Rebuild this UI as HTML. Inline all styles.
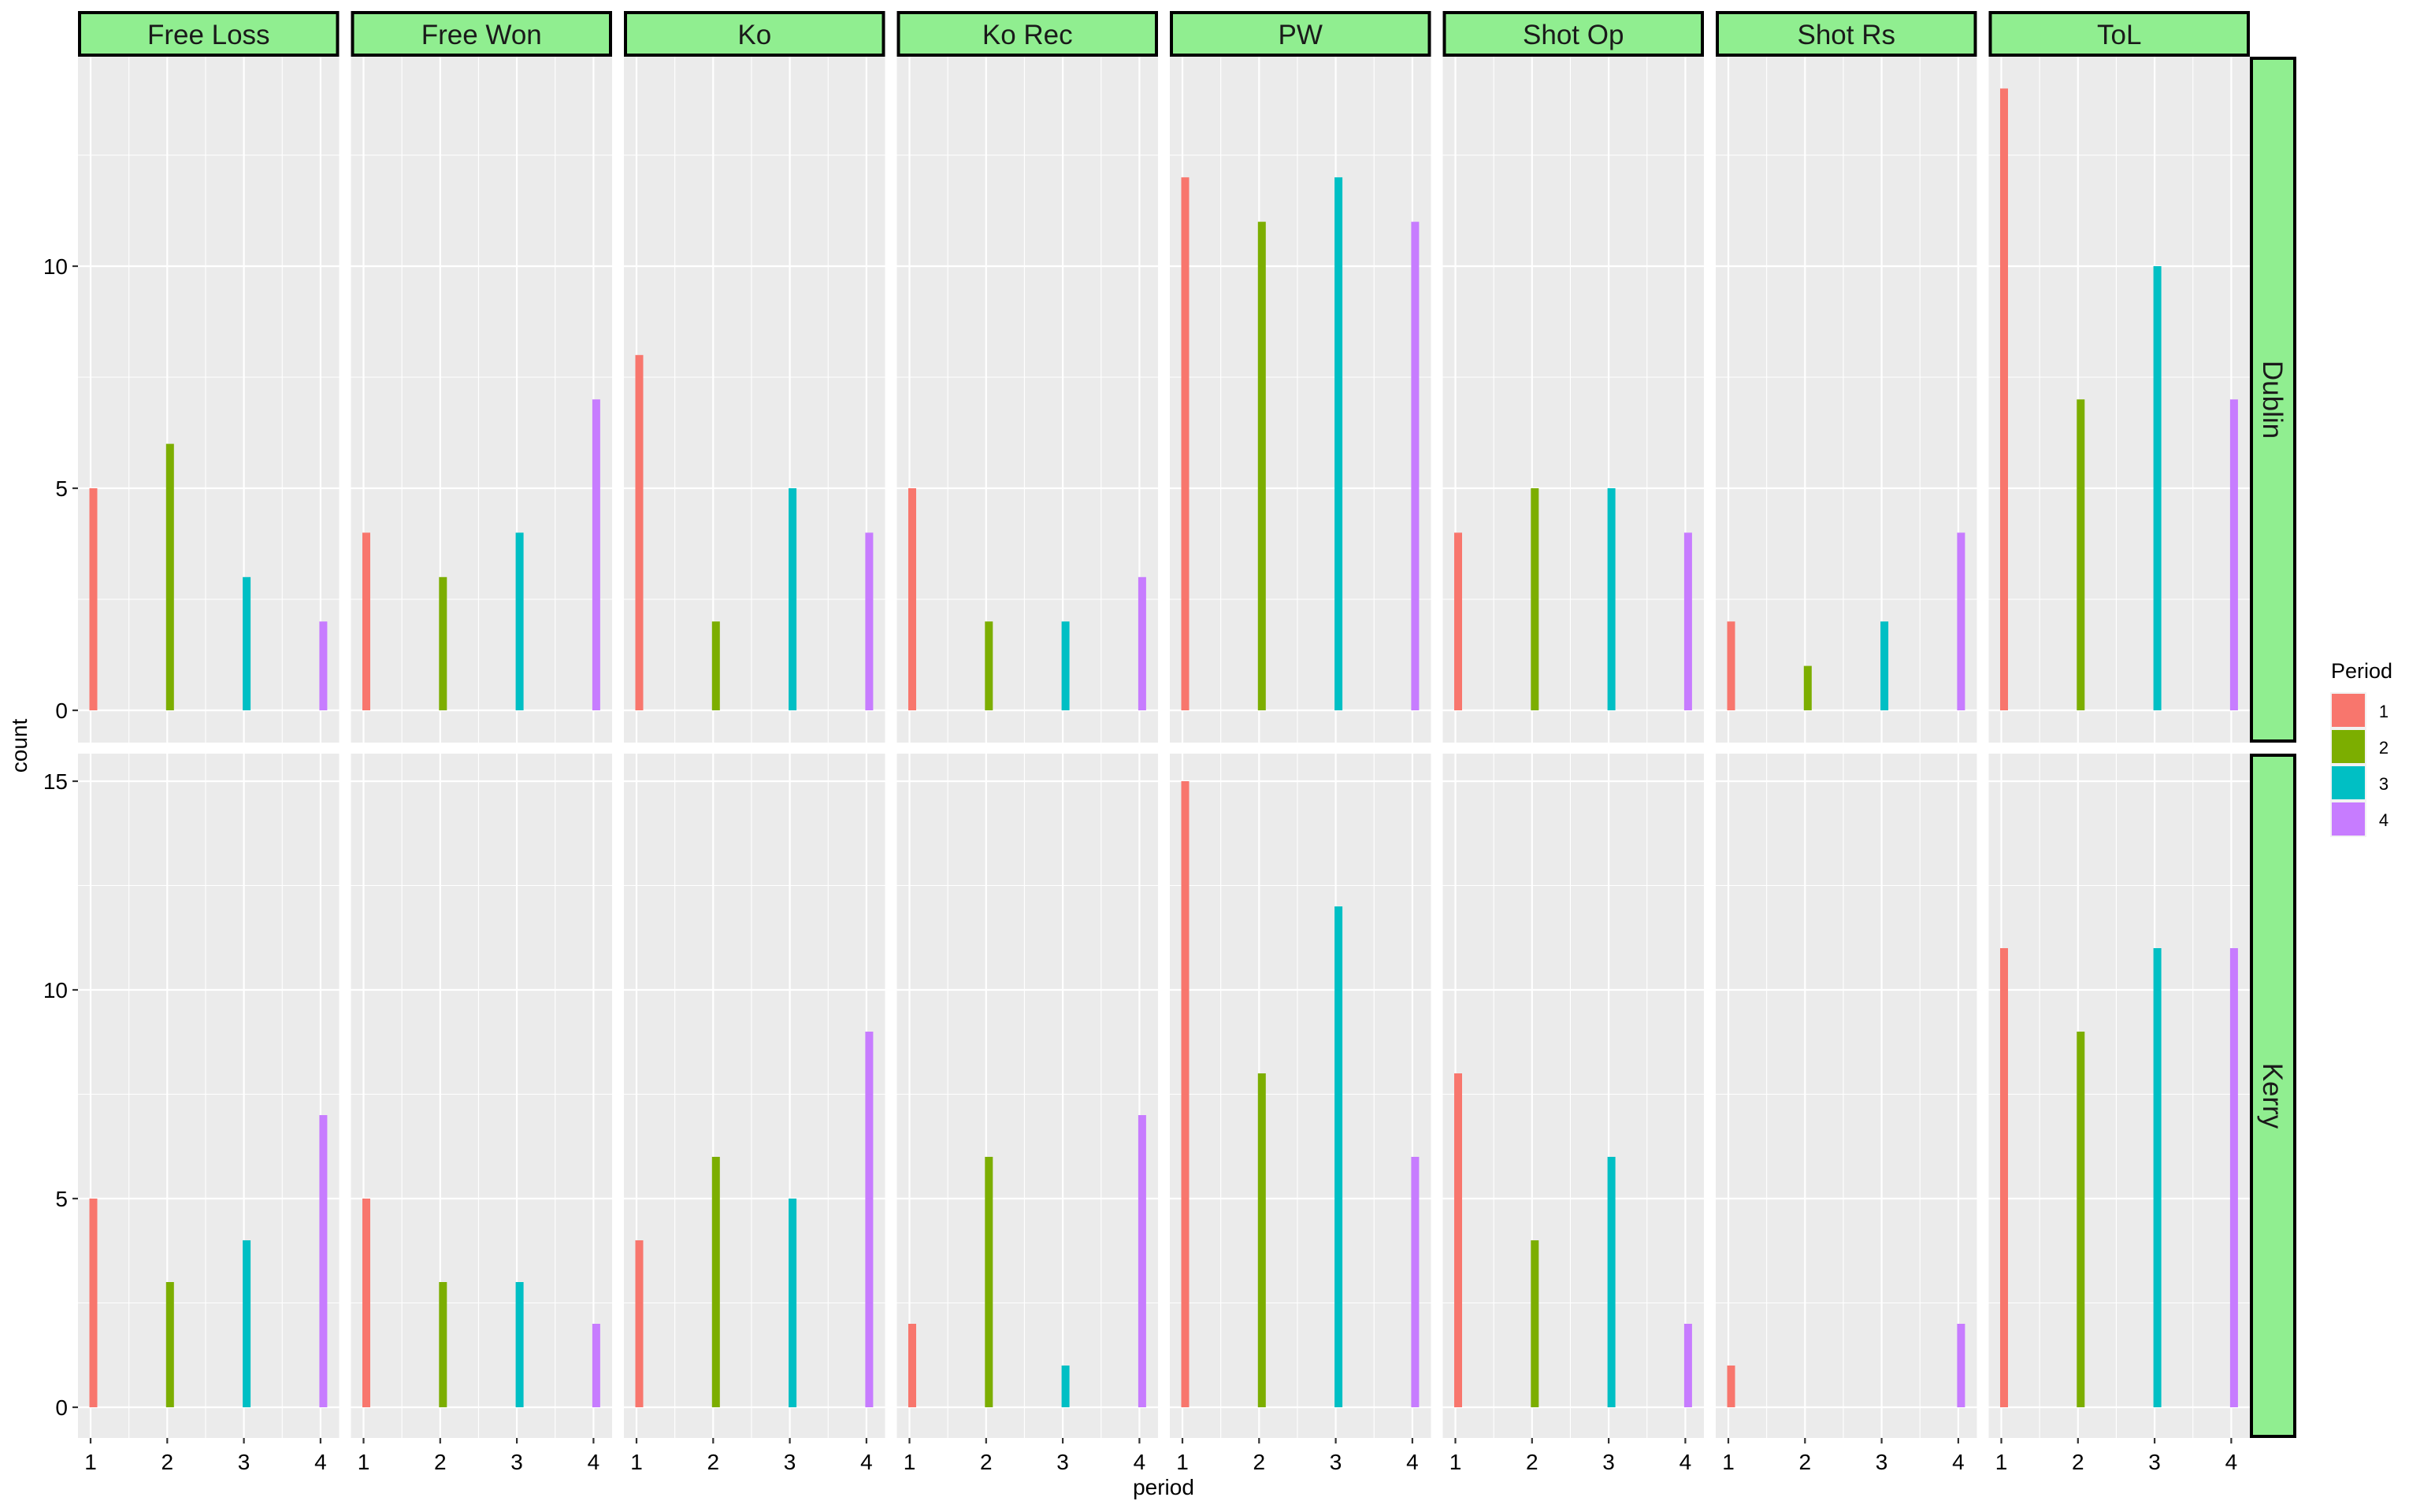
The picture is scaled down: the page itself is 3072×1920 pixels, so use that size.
<!DOCTYPE html>
<html><head><meta charset="utf-8">
<style>
html,body{margin:0;padding:0;background:#fff;}
svg{display:block;font-family:"Liberation Sans",Arial,sans-serif;}
</style></head>
<body>
<svg id="chart" width="3072" height="1920" viewBox="0 0 3072 1920" xmlns="http://www.w3.org/2000/svg"></svg>
<script>
const facets = ["Free Loss","Free Won","Ko","Ko Rec","PW","Shot Op","Shot Rs","ToL"];
const teams = ["Dublin","Kerry"];
const periods = [1,2,3,4];
const colors = ["#F8766D","#7CAE00","#00BFC4","#C77CFF"];
const dublinCounts = [[5,6,3,2],[4,3,4,7],[8,2,5,4],[5,2,2,3],[12,11,12,11],[4,5,5,4],[2,1,2,4],[14,7,10,7]];
const kerryCounts = [[5,3,4,7],[5,3,3,2],[4,6,5,9],[2,6,1,7],[15,8,12,6],[8,4,6,2],[1,0,0,2],[11,9,11,11]];
const dublinTicks = [0,5,10];
const kerryTicks = [0,5,10,15];

const NS="http://www.w3.org/2000/svg";
const svg=document.getElementById('chart');
function mk(tag,attrs,parent){const e=document.createElementNS(NS,tag);for(const k in attrs)e.setAttribute(k,attrs[k]);(parent||svg).appendChild(e);return e;}

const panelLeft0=99, panelW=331.5, panelStep=346.5;
const rows=[
 {top:72,bottom:943,zeroY:902,unit:56.4,data:dublinCounts,ticks:dublinTicks,name:'dublin'},
 {top:957,bottom:1826,zeroY:1787,unit:53,data:kerryCounts,ticks:kerryTicks,name:'kerry'}
];
function xScale(col,p){return panelLeft0+col*panelStep+16+(p-1)*97.3;}

rows.forEach((r,ri)=>{
  const yS=v=>r.zeroY-v*r.unit;
  const maxV=(r.zeroY-r.top)/r.unit, minV=(r.zeroY-r.bottom)/r.unit;
  facets.forEach((f,ci)=>{
    const L=panelLeft0+ci*panelStep;
    const g=mk('g',{});
    
    
    mk('rect',{x:L,y:r.top,width:panelW,height:r.bottom-r.top,fill:'#EBEBEB'},g);
    // minor horizontal grid
    for(let v=Math.ceil(minV/2.5)*2.5; v<=maxV; v+=2.5){
      const isMajor = Math.abs(v%5)<1e-6;
      mk('line',{x1:L,x2:L+panelW,y1:yS(v),y2:yS(v),stroke:'#fff','stroke-width':isMajor?2.2:1.1},g);
    }
    // vertical grid
    for(let p=0.5;p<=4.5;p+=0.5){
      const x=xScale(ci,p);
      if(x<L||x>L+panelW)continue;
      const isMajor=Math.abs(p%1)<1e-6;
      mk('line',{x1:x,x2:x,y1:r.top,y2:r.bottom,stroke:'#fff','stroke-width':isMajor?2.2:1.1},g);
    }
    // bars
    periods.forEach((p,pi)=>{
      const v=r.data[ci][pi];
      if(v<=0)return;
      const cx=xScale(ci,p)+3.5;
      const b=mk('rect',{x:cx-5,y:yS(v),width:10,height:yS(0)-yS(v),fill:colors[pi]},g);
      
      
    });
    // x ticks for bottom row
    if(ri===1){
      periods.forEach(p=>{
        const x=xScale(ci,p);
        mk('line',{x1:x,x2:x,y1:r.bottom,y2:r.bottom+7,stroke:'#333','stroke-width':2.2},g);
        const t=mk('text',{x:x,y:1866,'font-size':28,'text-anchor':'middle',fill:'#000'},g);
        t.textContent=p;
        
        
      });
    }
    // top strips
    if(ri===0){
      const s=mk('rect',{x:L+2,y:16,width:panelW-4,height:54,fill:'#90EE90',stroke:'#000','stroke-width':4});
      
      
      const t=mk('text',{x:L+panelW/2,y:56,'font-size':35,'text-anchor':'middle',fill:'#1a1a1a'});
      t.textContent=f;
      
      
    }
  });
  // y ticks
  r.ticks.forEach(v=>{
    const y=yS(v);
    mk('line',{x1:92,x2:99,y1:y,y2:y,stroke:'#333','stroke-width':2.2});
    const t=mk('text',{x:86,y:y+10,'font-size':28,'text-anchor':'end',fill:'#000'});
    t.textContent=v;
    
    
  });
  // right strip
  const rs=mk('rect',{x:2858,y:r.top+2,width:55,height:r.bottom-r.top-4,fill:'#90EE90',stroke:'#000','stroke-width':4});
  
  
  const cy=(r.top+r.bottom)/2;
  const rt=mk('text',{x:2885,y:cy,'font-size':35,'text-anchor':'middle',fill:'#1a1a1a',transform:'rotate(90 2885 '+cy+')',dy:'12'});
  rt.textContent=teams[ri];
  
  
});

// axis titles
const xt=mk('text',{x:1477,y:1898,'font-size':28,'text-anchor':'middle',fill:'#000'});
xt.textContent='period';


const yt=mk('text',{x:0,y:0,'font-size':28,'text-anchor':'middle',fill:'#000',transform:'translate(34,947) rotate(-90)'});
yt.textContent='count';



// legend
const lg=mk('g',{});


const ltitle=mk('text',{x:2959,y:861,'font-size':27,fill:'#000'},lg);
ltitle.textContent='Period';


mk('rect',{x:2958,y:879,width:46,height:184,fill:'#F2F2F2'},lg);
periods.forEach((p,i)=>{
  const y=881+i*46;
  const k=mk('rect',{x:2960,y:y,width:42,height:42,fill:colors[i]},lg);
  
  
  const t=mk('text',{x:3026,y:y+30,'font-size':22,'text-anchor':'middle',fill:'#000'},lg);
  t.textContent=p;
  
  
});
</script>
</body></html>
